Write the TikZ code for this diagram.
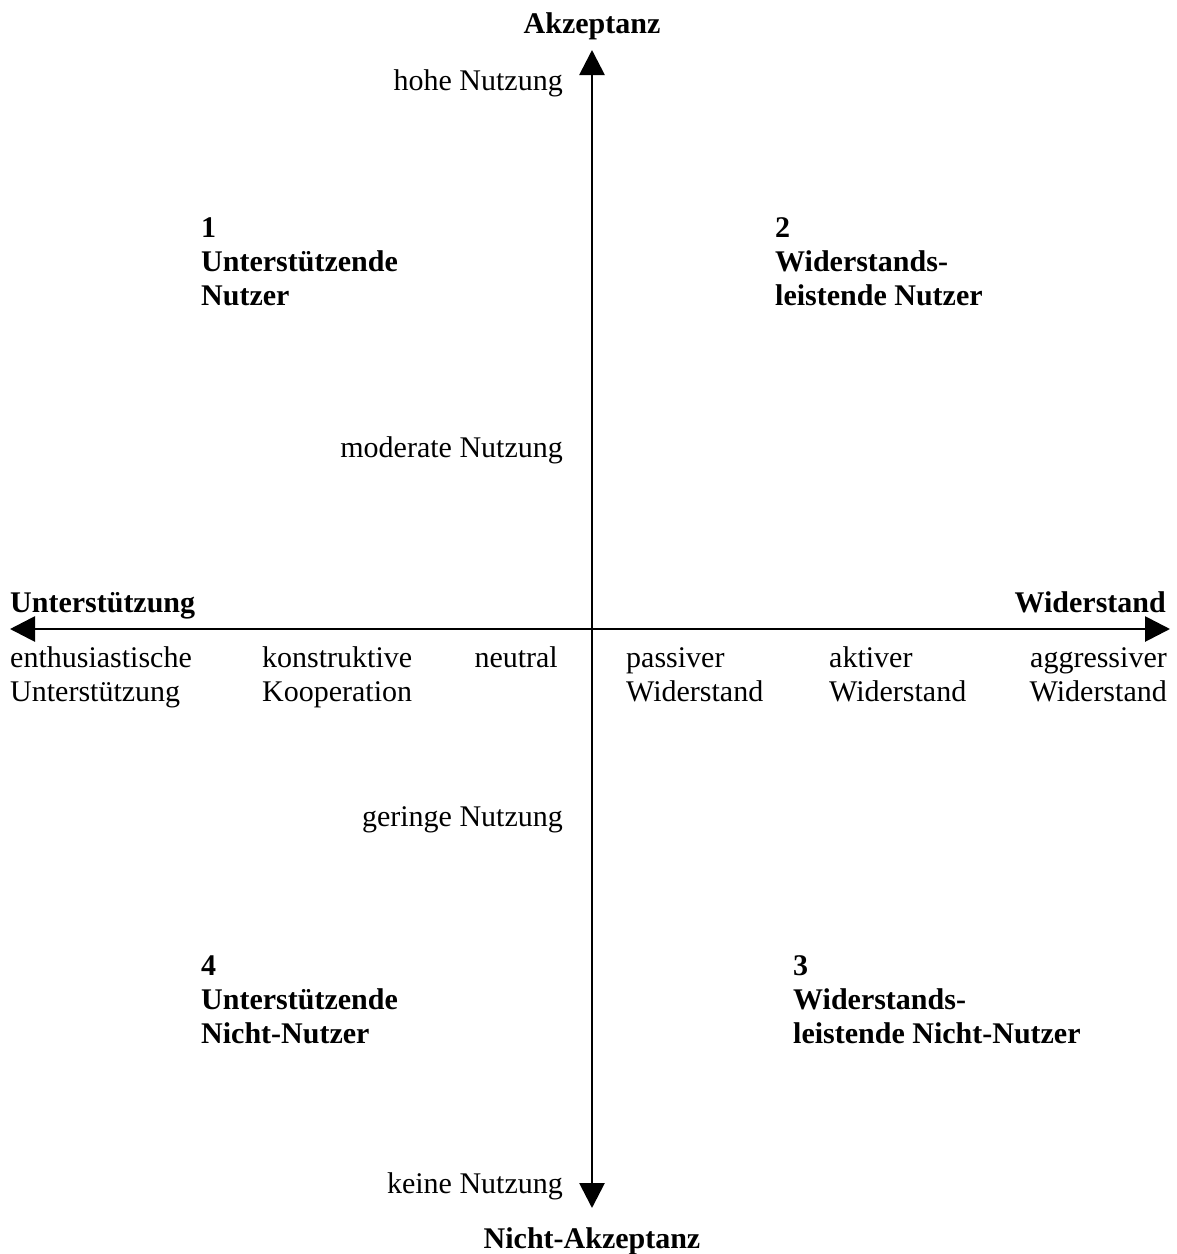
\documentclass[tikz,border=0pt]{standalone}
\usepackage{fontspec}
\setmainfont{Liberation Serif}
\usetikzlibrary{arrows.meta}
\begin{document}
\begin{tikzpicture}[x=1pt,y=-1pt,
  tip/.tip={Triangle[length=25pt,width=25pt]},
  axis/.style={line width=2.8pt, tip-tip},
  lbl/.style={inner sep=0pt, font=\fontsize{30}{34}\selectfont},
  head/.style={inner sep=0pt, font=\fontsize{30}{34}\selectfont\bfseries},
]
\useasboundingbox (0,0) rectangle (1177,1254);

% axis end points
\coordinate (top) at (592,50);
\coordinate (bot) at (592,1208);
\coordinate (left) at (10,629);
\coordinate (right) at (1170,629);

\draw[axis] (bot) -- (top);
\draw[axis] (left) -- (right);

% axis titles
\node[head, anchor=base] (akz) at (592,33) {Akzeptanz};
\node[head, anchor=base] (nakz) at (592,1248) {Nicht-Akzeptanz};
\node[head, anchor=base west] (unt) at (10,612) {Unterstützung};
\node[head, anchor=base east] (wid) at (1166,612) {Widerstand};

% scale on the vertical axis
\node[lbl, anchor=base east] (hohe) at (563,90) {hohe Nutzung};
\node[lbl, anchor=base east] (mod) at (563,457) {moderate Nutzung};
\node[lbl, anchor=base east] (ger) at (563,826) {geringe Nutzung};
\node[lbl, anchor=base east] (kei) at (563,1193) {keine Nutzung};

% scale on the horizontal axis
\node[lbl, anchor=base west] (enth) at (10,667)
  {\begin{tabular}[t]{@{}l@{}}enthusiastische\\Unterstützung\end{tabular}};
\node[lbl, anchor=base west] (konst) at (262,667)
  {\begin{tabular}[t]{@{}l@{}}konstruktive\\Kooperation\end{tabular}};
\node[lbl, anchor=base east] (neut) at (558,667) {neutral};
\node[lbl, anchor=base west] (pass) at (626,667)
  {\begin{tabular}[t]{@{}l@{}}passiver\\Widerstand\end{tabular}};
\node[lbl, anchor=base west] (akt) at (829,667)
  {\begin{tabular}[t]{@{}l@{}}aktiver\\Widerstand\end{tabular}};
\node[lbl, anchor=base east] (aggr) at (1167,667)
  {\begin{tabular}[t]{@{}r@{}}aggressiver\\Widerstand\end{tabular}};

% quadrants
\node[head, anchor=base west] (q1) at (201,237)
  {\begin{tabular}[t]{@{}l@{}}1\\Unterstützende\\Nutzer\end{tabular}};
\node[head, anchor=base west] (q2) at (775,237)
  {\begin{tabular}[t]{@{}l@{}}2\\Widerstands-\\leistende Nutzer\end{tabular}};
\node[head, anchor=base west] (q4) at (201,975)
  {\begin{tabular}[t]{@{}l@{}}4\\Unterstützende\\Nicht-Nutzer\end{tabular}};
\node[head, anchor=base west] (q3) at (793,975)
  {\begin{tabular}[t]{@{}l@{}}3\\Widerstands-\\leistende Nicht-Nutzer\end{tabular}};
\end{tikzpicture}
\end{document}
